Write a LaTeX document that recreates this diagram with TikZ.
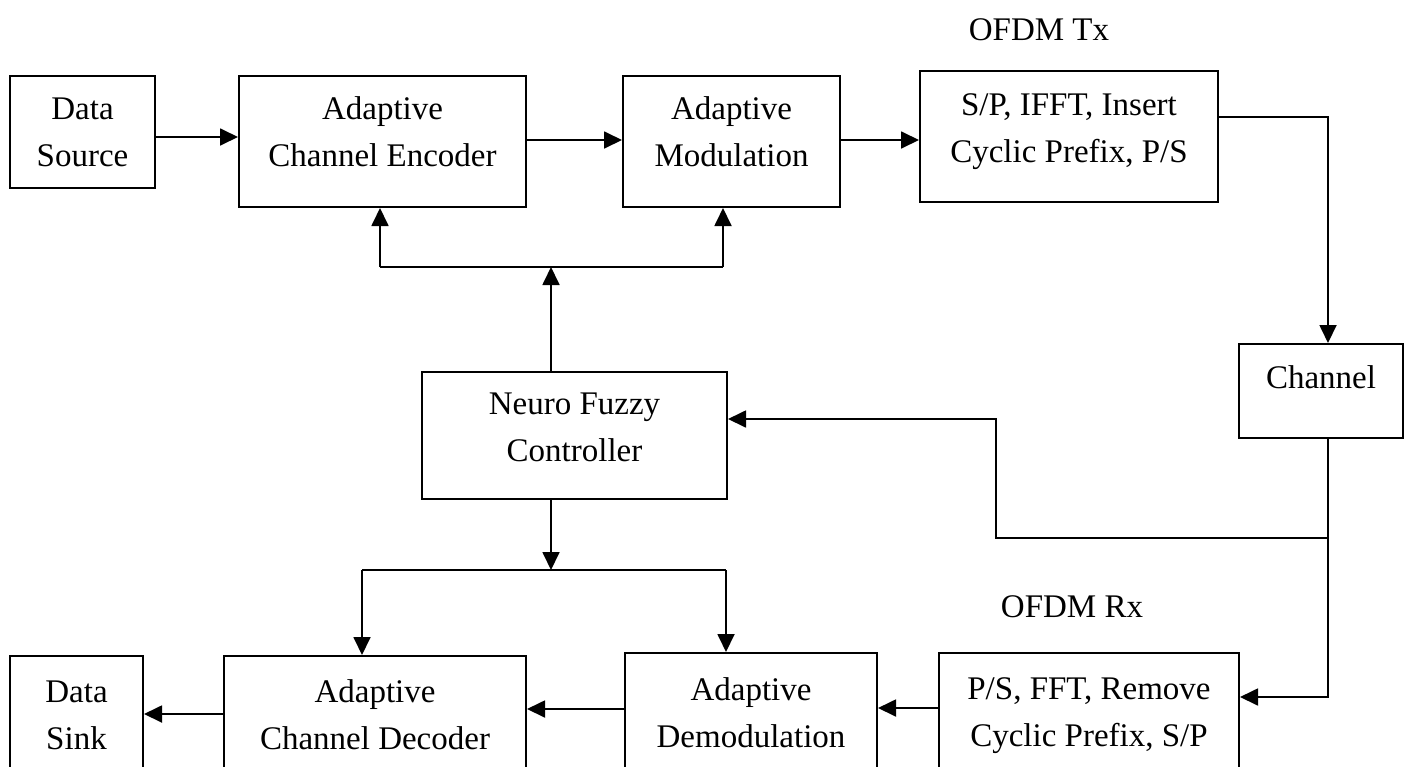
\documentclass[tikz,border=0pt]{standalone}
\usepackage{fontspec}
\setmainfont{Liberation Serif}
\usetikzlibrary{arrows.meta}
\begin{document}
\begin{tikzpicture}[x=1pt,y=-1pt,
  box/.style={draw, line width=2pt, rectangle, inner sep=0pt},
  txt/.style={font=\fontsize{33}{47}\selectfont, align=center, inner sep=0pt},
  ln/.style={line width=1.8pt},
  arr/.style={line width=1.8pt, -{Triangle[length=18pt,width=17pt]}}]
\useasboundingbox (0,0) rectangle (1407,766);
\clip (0,0) rectangle (1407,766);
% boxes
\node[box, minimum width=145pt, minimum height=112pt] (src) at (82.5,132) {};
\node[txt] (srct) at (82.5,132) {Data\\Source};
\node[box, minimum width=287pt, minimum height=131pt] (enc) at (382.5,141.5) {};
\node[txt] (enct) at (382.5,132) {Adaptive\\Channel Encoder};
\node[box, minimum width=217pt, minimum height=131pt] (mod) at (731.5,141.5) {};
\node[txt] (modt) at (731.5,132) {Adaptive\\Modulation};
\node[box, minimum width=298pt, minimum height=131pt] (tx) at (1069,136.5) {};
\node[txt] (txt) at (1069,132) {S/P, IFFT, Insert\\Cyclic Prefix, P/S};
\node[txt] (txl) at (1039,30) {OFDM Tx};
\node[box, minimum width=164pt, minimum height=94pt] (ch) at (1321,391) {};
\node[txt] (cht) at (1321,377) {Channel};
\node[box, minimum width=305pt, minimum height=127pt] (nfc) at (574.5,435.5) {};
\node[txt] (nfct) at (574.5,427) {Neuro Fuzzy\\Controller};
\node[txt] (rxl) at (1072,607) {OFDM Rx};
\node[box, minimum width=300pt, minimum height=147pt] (rx) at (1089,726.5) {};
\node[txt] (rxt) at (1089,716) {P/S, FFT, Remove\\Cyclic Prefix, S/P};
\node[box, minimum width=252pt, minimum height=147pt] (dem) at (751,726.5) {};
\node[txt] (demt) at (751,713) {Adaptive\\Demodulation};
\node[box, minimum width=302pt, minimum height=144pt] (dec) at (375,728) {};
\node[txt] (dect) at (375,715) {Adaptive\\Channel Decoder};
\node[box, minimum width=133pt, minimum height=144pt] (sink) at (76.5,728) {};
\node[txt] (sinkt) at (76.5,715) {Data\\Sink};
% helper coordinates
\coordinate (c1) at (1328,117);
\coordinate (c2) at (1328,697);
\coordinate (c3) at (1328,538);
\coordinate (c4) at (996,538);
\coordinate (c5) at (996,419);
\coordinate (c6) at (551,267);
\coordinate (c7) at (380,267);
\coordinate (c8) at (723,267);
\coordinate (d1) at (551,570);
\coordinate (d2) at (362,570);
\coordinate (d3) at (726,570);
\coordinate (r1) at (939,708);
\coordinate (r2) at (625,709);
\coordinate (r3) at (224,714);
% connectors
\draw[arr] ([yshift=-5pt]src.east) -- ([yshift=-5pt]src.east -| enc.west);
\draw[arr] ([yshift=1.5pt]enc.east) -- ([yshift=1.5pt]enc.east -| mod.west);
\draw[arr] ([yshift=1.5pt]mod.east) -- ([yshift=1.5pt]mod.east -| tx.west);
\draw[arr] (c1 -| tx.east) -- (c1) -- (c1 |- ch.north);
\draw[arr] (c1 |- ch.south) -- (c2) -- (c2 -| rx.east);
\draw[arr] (c3) -- (c4) -- (c5) -- (c5 -| nfc.east);
\draw[arr] (c6 |- nfc.north) -- (c6);
\draw[ln] (c7) -- (c8);
\draw[arr] (c7) -- (c7 |- enc.south);
\draw[arr] (c8) -- (c8 |- mod.south);
\draw[arr] (d1 |- nfc.south) -- (d1);
\draw[ln] (d2) -- (d3);
\draw[arr] (d2) -- (d2 |- dec.north);
\draw[arr] (d3) -- (d3 |- dem.north);
\draw[arr] (r1 -| rx.west) -- (r1 -| dem.east);
\draw[arr] (r2 -| dem.west) -- (r2 -| dec.east);
\draw[arr] (r3 -| dec.west) -- (r3 -| sink.east);
\end{tikzpicture}
\end{document}
